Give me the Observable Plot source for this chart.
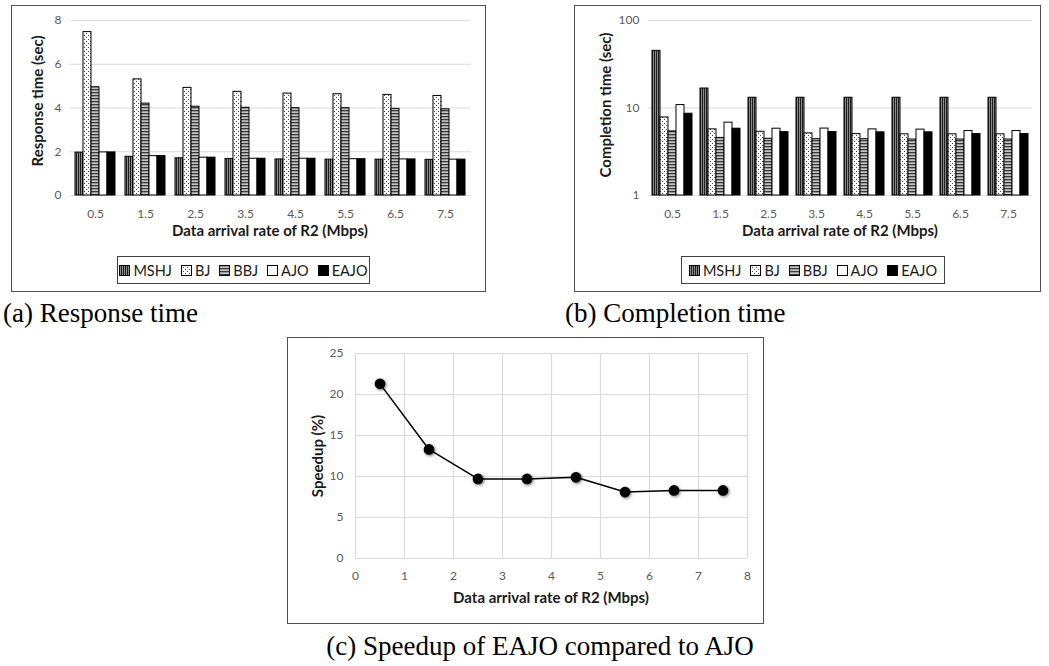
<!DOCTYPE html>
<html><head><meta charset="utf-8">
<script src="https://cdn.jsdelivr.net/npm/d3@7"></script>
<script src="https://cdn.jsdelivr.net/npm/@observablehq/plot@0.6"></script>
<style>
body{margin:0;background:#fff;}
#root{position:relative;width:1049px;height:666px;overflow:hidden;font-family:Lato,"Open Sans",sans-serif;}
.box{position:absolute;border:1px solid #505050;box-sizing:border-box;}
.chart{position:absolute;}
.chart svg{overflow:visible;}
.cap{position:absolute;font-family:"Liberation Serif","Times New Roman",serif;font-size:27px;line-height:26px;color:#000;white-space:nowrap;}
.ttl{position:absolute;font-weight:bold;font-size:15px;color:#1a1a1a;white-space:nowrap;transform:translate(-50%,-50%);}
.ttl.rot{transform:translate(-50%,-50%) rotate(-90deg);}
.legend{position:absolute;border:1px solid #404040;box-sizing:border-box;display:flex;align-items:center;justify-content:center;gap:9px;font-size:14.5px;color:#1a1a1a;background:#fff;}
.legend .it{display:flex;align-items:center;gap:3px;}
.legend svg{display:block;}
</style>
</head><body>
<svg width="0" height="0" style="position:absolute">
  <defs>
    <pattern id="pMSHJ" patternUnits="userSpaceOnUse" width="2" height="2">
      <rect width="2" height="2" fill="#1e1e1e"/><rect x="1" width="1" height="2" fill="#8a8a8a"/>
    </pattern>
    <pattern id="pBJ" patternUnits="userSpaceOnUse" width="4" height="4">
      <rect width="4" height="4" fill="#fff"/><rect x="0" y="0" width="1" height="1" fill="#444"/><rect x="2" y="2" width="1" height="1" fill="#444"/>
    </pattern>
    <pattern id="pBBJ" patternUnits="userSpaceOnUse" width="3" height="3">
      <rect width="3" height="3" fill="#c4c4c4"/><rect y="0" width="3" height="1.3" fill="#3a3a3a"/>
    </pattern>
  </defs>
</svg>
<div id="root"></div>
<script>
// ---- data ----
const rates = ["0.5","1.5","2.5","3.5","4.5","5.5","6.5","7.5"];
const seriesNames = ["MSHJ","BJ","BBJ","AJO","EAJO"];
const seriesFill = ["url(#pMSHJ)","url(#pBJ)","url(#pBBJ)","#ffffff","#000000"];

// (a) Response time (sec)
const respMSHJ = [1.96,1.77,1.70,1.67,1.65,1.64,1.64,1.63];
const respBJ   = [7.47,5.31,4.92,4.74,4.66,4.63,4.60,4.55];
const respBBJ  = [4.95,4.20,4.06,4.01,3.99,3.99,3.96,3.94];
const respAJO  = [1.97,1.80,1.73,1.68,1.68,1.66,1.65,1.64];
const respEAJO = [1.97,1.80,1.73,1.68,1.68,1.66,1.65,1.64];
const respTicks = [0,2,4,6,8];

// (b) Completion time (sec)
const compMSHJ = [45.0,16.7,13.1,13.1,13.1,13.1,13.1,13.1];
const compBJ   = [7.8,5.7,5.35,5.13,5.03,5.0,5.0,5.0];
const compBBJ  = [5.4,4.55,4.45,4.4,4.4,4.36,4.36,4.36];
const compAJO  = [10.8,6.8,5.8,5.82,5.7,5.66,5.46,5.46];
const compEAJO = [8.6,5.8,5.3,5.31,5.27,5.27,5.04,5.04];
const compTicks = [1,10,100];

// (c) Speedup of EAJO compared to AJO (%)
const speedRate = [0.5,1.5,2.5,3.5,4.5,5.5,6.5,7.5];
const speedup   = [21.3,13.3,9.7,9.7,9.9,8.1,8.3,8.3];
const speedXTicks = [0,1,2,3,4,5,6,7,8];
const speedYTicks = [0,5,10,15,20,25];

// ---- helpers ----
const root = document.getElementById("root");
function el(tag, cls, style, text){
  const e = document.createElement(tag);
  if (cls) e.className = cls;
  Object.assign(e.style, style || {});
  if (text != null) e.textContent = text;
  root.appendChild(e);
  return e;
}
function rowsOf(arrs){
  const out = [];
  rates.forEach((r,i)=> seriesNames.forEach((s,j)=> out.push({rate:r, series:s, fill:seriesFill[j], value:arrs[j][i]})));
  return out;
}
function legend(left, top, width){
  const lg = el("div","legend",{left:left+"px",top:top+"px",width:width+"px",height:"28px"});
  seriesNames.forEach((s,j)=>{
    const it = document.createElement("div"); it.className="it";
    it.innerHTML = `<svg width="11" height="11"><rect x="0.5" y="0.5" width="10" height="10" fill="${seriesFill[j]}" stroke="#000" stroke-width="1"/></svg><span>${s}</span>`;
    lg.appendChild(it);
  });
}
const gridColor = "#d9d9d9";
const tickColor = "#595959";

// ---- boxes ----
el("div","box",{left:"11px",top:"5px",width:"475px",height:"287px"});
el("div","box",{left:"574px",top:"5px",width:"467px",height:"287px"});
el("div","box",{left:"287px",top:"337px",width:"477px",height:"287px"});

// ---- chart (a) ----
const rowsA = rowsOf([respMSHJ,respBJ,respBBJ,respAJO,respEAJO]);
const chartA = Plot.plot({
  width: 474, height: 215,
  marginLeft: 59, marginRight: 15, marginTop: 15, marginBottom: 25,
  style: {background:"transparent", color: tickColor, fontFamily:"Lato, sans-serif", fontSize:"12px"},
  facet: {data: rowsA, x: "rate"},
  fx: {domain: rates, paddingInner: 0.12, paddingOuter: 0.06, tickSize: 0, tickPadding: 14, label: null},
  x: {domain: seriesNames, axis: null, padding: 0},
  y: {domain: [0,8], ticks: respTicks, tickSize: 0, tickPadding: 12, label: null},
  color: {type: "identity"},
  marks: [
    Plot.ruleY(respTicks, {stroke: gridColor, strokeWidth: 1.2, insetLeft: -3.2, insetRight: -3.2}),
    Plot.barY(rowsA, {x: "series", y: "value", fill: "fill", stroke: "#000", strokeWidth: 1})
  ]
});
const cA = el("div","chart",{left:"11px",top:"5px"}); cA.appendChild(chartA);

// ---- chart (b) ----
const rowsB = rowsOf([compMSHJ,compBJ,compBBJ,compAJO,compEAJO]);
const chartB = Plot.plot({
  width: 466, height: 215,
  marginLeft: 73, marginRight: 8, marginTop: 15, marginBottom: 25,
  style: {background:"transparent", color: tickColor, fontFamily:"Lato, sans-serif", fontSize:"12px"},
  facet: {data: rowsB, x: "rate"},
  fx: {domain: rates, paddingInner: 0.12, paddingOuter: 0.06, tickSize: 0, tickPadding: 14, label: null},
  x: {domain: seriesNames, axis: null, padding: 0},
  y: {type: "log", domain: [1,100], ticks: compTicks, tickFormat: d => String(d), tickSize: 0, tickPadding: 12, label: null},
  color: {type: "identity"},
  marks: [
    Plot.ruleY(compTicks, {stroke: gridColor, strokeWidth: 1.2, insetLeft: -3.1, insetRight: -3.1}),
    Plot.barY(rowsB, {x: "series", y1: 1, y2: "value", fill: "fill", stroke: "#000", strokeWidth: 1})
  ]
});
const cB = el("div","chart",{left:"575px",top:"5px"}); cB.appendChild(chartB);

// ---- chart (c) ----
const rowsC = speedRate.map((r,i)=>({rate:r, speedup:speedup[i]}));
const chartC = Plot.plot({
  width: 470, height: 260,
  marginLeft: 65, marginRight: 13, marginTop: 13, marginBottom: 42,
  style: {background:"transparent", color: tickColor, fontFamily:"Lato, sans-serif", fontSize:"12px"},
  x: {domain: [0,8], ticks: speedXTicks, tickSize: 0, tickPadding: 13, label: null},
  y: {domain: [0,25], ticks: speedYTicks, tickSize: 0, tickPadding: 12, label: null},
  marks: [
    Plot.ruleX(speedXTicks, {stroke: gridColor, strokeWidth: 1.2}),
    Plot.ruleY(speedYTicks, {stroke: gridColor, strokeWidth: 1.2}),
    Plot.line(rowsC, {x: "rate", y: "speedup", stroke: "#000", strokeWidth: 1.5}),
    Plot.dot(rowsC, {x: "rate", y: "speedup", r: 4.6, fill: "#000", stroke: "#000"})
  ]
});
const cC = el("div","chart",{left:"290px",top:"340px"}); cC.appendChild(chartC);
chartC.querySelectorAll('g[aria-label="dot"] circle').forEach(c=>c.style.filter="drop-shadow(1px 1px 1.5px rgba(0,0,0,0.55))");

// ---- axis titles ----
el("div","ttl rot",{left:"37px",top:"101px"},"Response time (sec)");
el("div","ttl",{left:"270px",top:"230px"},"Data arrival rate of R2 (Mbps)");
el("div","ttl rot",{left:"605px",top:"105px"},"Completion time (sec)");
el("div","ttl",{left:"840px",top:"230px"},"Data arrival rate of R2 (Mbps)");
el("div","ttl rot",{left:"317px",top:"456px"},"Speedup (%)");
el("div","ttl",{left:"551px",top:"597px"},"Data arrival rate of R2 (Mbps)");

// ---- legends ----
legend(117, 256, 253);
legend(681, 256, 264);

// ---- captions ----
el("div","cap",{left:"3px",top:"300px"},"(a) Response time");
el("div","cap",{left:"565px",top:"300px"},"(b) Completion time");
el("div","cap",{left:"240px",top:"633px",width:"600px",textAlign:"center"},"(c) Speedup of EAJO compared to AJO");
</script>
</body></html>
